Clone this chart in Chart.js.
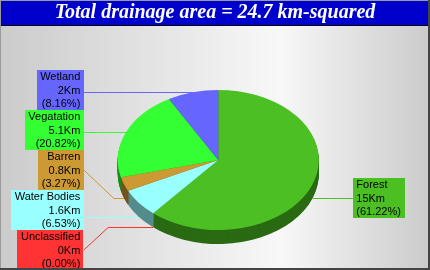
<!DOCTYPE html>
<html>
<head>
<meta charset="utf-8">
<script src="https://cdn.jsdelivr.net/npm/chart.js@4.4.1/dist/chart.umd.min.js"></script>
<style>
  html, body { margin: 0; padding: 0; background: #fff; }
  #wrap { width: 430px; height: 270px; }
</style>
</head>
<body>
<div id="wrap"><canvas id="pieChart" width="430" height="270"></canvas></div>
<script>
// slices in clockwise order starting at 12 o'clock
const categories = ['Forest', 'Unclassified', 'Water Bodies', 'Barren', 'Vegatation', 'Wetland'];
const areas = [15, 0, 1.6, 0.8, 5.1, 2];
const sliceColors = ['#4cc022', '#ff3333', '#99ffff', '#cc9933', '#33ff33', '#6666ff'];
const titleText = 'Total drainage area = 24.7 km-squared';
const unit = 'Km';

const total = areas.reduce((a, b) => a + b, 0);

// look of the 3D pie
const pieCenter = { x: 218.3, y: 160 };
const pieRx = 100.5, pieRy = 70, pieDepth = 14;

const darken = (hex, f) => {
    const n = parseInt(hex.slice(1), 16);
    const r = Math.round(((n >> 16) & 255) * f), g = Math.round(((n >> 8) & 255) * f), b = Math.round((n & 255) * f);
    return `rgb(${r},${g},${b})`;
};

function applyEllipse(ctx, arc) {
    const R = arc.outerRadius;
    ctx.translate(pieCenter.x, pieCenter.y);
    ctx.scale(pieRx / R, pieRy / R);
    ctx.translate(-arc.x, -arc.y);
}

const backgroundPlugin = {
    id: 'backgroundPlugin',
    beforeDraw(chart) {
        const ctx = chart.ctx, w = chart.width, h = chart.height;
        ctx.save();
        const grad = ctx.createLinearGradient(0, 0, w, 0);
        grad.addColorStop(0, '#cbcbcb');
        grad.addColorStop(0.65, '#f8f8f8');
        grad.addColorStop(1, '#cbcbcb');
        ctx.fillStyle = grad;
        ctx.fillRect(0, 0, w, h);
        // title bar
        ctx.fillStyle = '#0000cc';
        ctx.fillRect(1, 1, w - 3, 24);
        ctx.fillStyle = '#000';
        ctx.fillRect(1, 25, w - 3, 1);
        ctx.restore();
    },
    afterDraw(chart) {
        const ctx = chart.ctx, w = chart.width, h = chart.height;
        ctx.save();
        ctx.fillStyle = '#9a9a9a';
        ctx.fillRect(0, 0, w, 1);
        ctx.fillRect(0, 0, 1, h);
        ctx.fillStyle = '#444';
        ctx.fillRect(w - 2, 0, 2, h);
        ctx.fillRect(0, h - 2, w, 2);
        ctx.restore();
    }
};

const pie3dPlugin = {
    id: 'pie3dPlugin',
    beforeDatasetsDraw(chart) {
        const ctx = chart.ctx;
        const arcs = chart.getDatasetMeta(0).data;
        // side wall: stack darker copies of the slices below the top face
        for (let d = pieDepth; d >= 1; d--) {
            ctx.save();
            ctx.translate(0, d);
            applyEllipse(ctx, arcs[0]);
            arcs.forEach((arc, i) => {
                const saved = arc.options;
                arc.options = Object.assign({}, saved, { backgroundColor: darken(sliceColors[i], 0.55), borderWidth: 0 });
                arc.draw(ctx);
                arc.options = saved;
            });
            ctx.restore();
        }
        ctx.save();
        applyEllipse(ctx, arcs[0]);
    },
    afterDatasetsDraw(chart) {
        chart.ctx.restore();
        drawLabels(chart);
    }
};

function drawLabels(chart) {
    const ctx = chart.ctx;
    const arcs = chart.getDatasetMeta(0).data;
    const lineH = 13.33, boxH = lineH * 3, padX = 3.5;
    ctx.save();
    ctx.font = '11px "Liberation Sans", Arial, sans-serif';
    ctx.textBaseline = 'middle';

    const items = arcs.map((arc, i) => {
        const mid = (arc.startAngle + arc.endAngle) / 2;
        const s = pieRy / arc.outerRadius;
        const ax = pieCenter.x + Math.cos(mid) * pieRx;
        let ay = pieCenter.y + Math.sin(mid) * pieRy;
        if (Math.sin(mid) > 0) ay += pieDepth;
        const lines = [categories[i], areas[i] + unit, '(' + (areas[i] / total * 100).toFixed(2) + '%)'];
        const tw = Math.max(...lines.map(t => ctx.measureText(t).width));
        return { i, ax, ay, left: Math.cos(mid) < 0, lines, w: tw + padX * 2, top: ay - boxH / 2 };
    });

    // stack each side's boxes so they don't overlap and stay in the picture
    [true, false].forEach(side => {
        const col = items.filter(it => it.left === side).sort((a, b) => a.ay - b.ay);
        for (let k = 1; k < col.length; k++) {
            col[k].top = Math.max(col[k].top, col[k - 1].top + boxH);
        }
        for (let k = col.length - 1; k >= 0; k--) {
            const limit = k === col.length - 1 ? chart.height : col[k + 1].top;
            col[k].top = Math.min(col[k].top, limit - boxH);
        }
        for (let k = 0; k < col.length; k++) {
            col[k].top = Math.max(col[k].top, k === 0 ? 27 : col[k - 1].top + boxH);
        }
    });

    items.forEach(it => {
        const color = sliceColors[it.i];
        const bx = it.left ? pieCenter.x - pieRx - 34 - it.w : pieCenter.x + pieRx + 34;
        const edgeX = it.left ? bx + it.w : bx;
        // leader line
        ctx.strokeStyle = color;
        ctx.lineWidth = 1;
        ctx.beginPath();
        if (it.ay >= it.top && it.ay <= it.top + boxH) {
            ctx.moveTo(edgeX, Math.round(it.ay) + 0.5);
            ctx.lineTo(it.ax, Math.round(it.ay) + 0.5);
        } else {
            const cy = it.top + boxH / 2;
            const dy = Math.abs(it.ay - cy);
            const kx = it.left ? edgeX + dy * 1.07 : edgeX - dy * 1.07;
            ctx.moveTo(edgeX, cy);
            ctx.lineTo(kx, Math.round(it.ay) + 0.5);
            ctx.lineTo(it.ax, Math.round(it.ay) + 0.5);
        }
        ctx.stroke();
        // box
        ctx.fillStyle = color;
        ctx.fillRect(Math.round(bx), Math.round(it.top), Math.round(it.w), Math.round(boxH));
        ctx.fillStyle = '#000';
        ctx.textAlign = it.left ? 'right' : 'left';
        const tx = it.left ? bx + it.w - padX : bx + padX;
        it.lines.forEach((t, k) => ctx.fillText(t, tx, it.top + lineH / 2 + k * lineH + 0.5));
    });
    ctx.restore();
}

new Chart(document.getElementById('pieChart'), {
    type: 'pie',
    data: {
        labels: categories,
        datasets: [{
            data: areas,
            backgroundColor: sliceColors,
            borderWidth: 0,
            clip: false
        }]
    },
    options: {
        responsive: false,
        animation: false,
        layout: { padding: { top: 0, bottom: 10, left: 0, right: 0 } },
        plugins: {
            legend: { display: false },
            tooltip: { enabled: false },
            title: {
                display: true,
                text: titleText,
                color: '#ffffff',
                font: { family: '"Liberation Serif", "Times New Roman", serif', size: 20, weight: 'bold', style: 'italic' },
                padding: { top: 1, bottom: 1 }
            }
        }
    },
    plugins: [backgroundPlugin, pie3dPlugin]
});
</script>
</body>
</html>
